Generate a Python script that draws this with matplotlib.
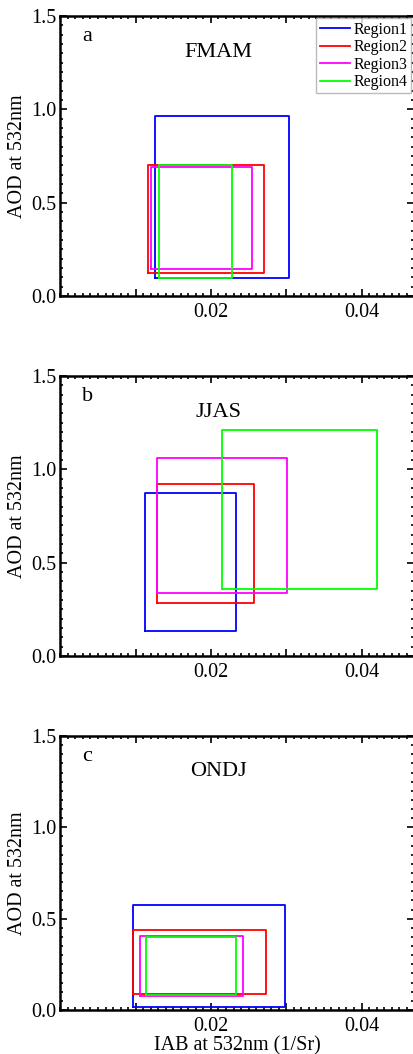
import matplotlib
matplotlib.use("Agg")
import matplotlib.pyplot as plt
from matplotlib.ticker import MultipleLocator, FixedFormatter, FixedLocator

plt.rcParams['font.family'] = ['Liberation Serif', 'DejaVu Serif']

# season names and panel letters
seasons = ['FMAM', 'JJAS', 'ONDJ']
letters = ['a', 'b', 'c']
regions = ['Region1', 'Region2', 'Region3', 'Region4']
colors = ['#0000ff', '#ff0000', '#ff00ff', '#00ff00']

# box extents per season: one value per region (Region1..Region4)
iab_min = [[0.0126, 0.0117, 0.0120, 0.0131],
           [0.0112, 0.0129, 0.0128, 0.0215],
           [0.0097, 0.0096, 0.0106, 0.0114]]
iab_max = [[0.0304, 0.0270, 0.0254, 0.0228],
           [0.0233, 0.0257, 0.0301, 0.0420],
           [0.0299, 0.0273, 0.0243, 0.0233]]
aod_min = [[0.095, 0.123, 0.143, 0.095],
           [0.134, 0.282, 0.338, 0.361],
           [0.015, 0.086, 0.078, 0.082]]
aod_max = [[0.964, 0.704, 0.691, 0.704],
           [0.875, 0.921, 1.061, 1.211],
           [0.576, 0.440, 0.405, 0.398]]

fig = plt.figure(figsize=(4.14, 10.54), dpi=100)

# axes rectangles in figure fractions: left, bottom, width, height
rects = [[0.1457, 0.7192, 0.8531, 0.2657],
         [0.1457, 0.3776, 0.8531, 0.2657],
         [0.1457, 0.0418, 0.8531, 0.2599]]

for k in range(3):
    ax = fig.add_axes(rects[k])
    for r in range(4):
        x0, x1 = iab_min[k][r], iab_max[k][r]
        y0, y1 = aod_min[k][r], aod_max[k][r]
        ax.plot([x0, x1, x1, x0, x0], [y0, y0, y1, y1, y0], color=colors[r],
                lw=1.3, label=regions[r])
    ax.set_xlim(0, 0.0469)
    ax.set_ylim(0, 1.5)
    ax.xaxis.set_major_locator(FixedLocator([0.01, 0.02, 0.03, 0.04]))
    ax.xaxis.set_major_formatter(FixedFormatter(['', '0.02', '', '0.04']))
    ax.xaxis.set_minor_locator(MultipleLocator(0.001))
    ax.yaxis.set_major_locator(MultipleLocator(0.5))
    ax.yaxis.set_major_formatter(plt.FuncFormatter(lambda v, p: '%.1f' % v))
    ax.yaxis.set_minor_locator(MultipleLocator(0.05))
    ax.tick_params(which='both', direction='in', top=True, right=True,
                   labelsize=14.5, width=1.2)
    ax.tick_params(which='major', length=5, pad=5)
    ax.tick_params(which='minor', length=2.5)
    ax.tick_params(axis='y', which='major', pad=3)
    for s in ax.spines.values():
        s.set_linewidth(1.8)
    ax.set_ylabel('AOD at 532nm', fontsize=14.5, labelpad=3)
    ax.text(0.076, 0.925, letters[k], transform=ax.transAxes, fontsize=16,
            ha='center', va='center')
    ax.text(0.447, 0.87, seasons[k], transform=ax.transAxes, fontsize=16,
            ha='center', va='center')
    if k == 0:
        ax.legend(loc='upper right', fontsize=11.5, frameon=True, fancybox=False,
                  edgecolor='#aaaaaa', handlelength=1.9, handletextpad=0.25,
                  labelspacing=0.1, borderpad=0.2, borderaxespad=0.15)
    if k == 2:
        ax.set_xlabel('IAB at 532nm (1/Sr)', fontsize=14.5, labelpad=0.5)

fig.savefig('out.png', dpi=100)
